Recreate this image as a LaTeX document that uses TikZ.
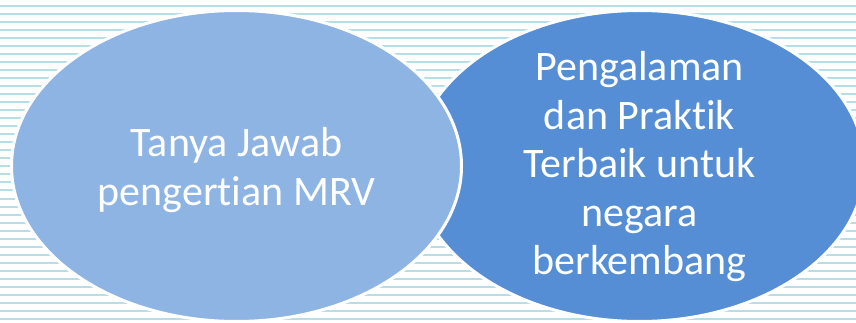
\documentclass[tikz,border=0pt]{standalone}
\usepackage{fontspec}
\setmainfont{Carlito}[Ligatures=NoCommon]
\usetikzlibrary{shapes,positioning}

\definecolor{stripeblue}{HTML}{B7DEE8}
\definecolor{lightfill}{HTML}{8EB4E3}
\definecolor{darkfill}{HTML}{558ED5}

\begin{document}
\begin{tikzpicture}[
    x=1pt,
    y=-1pt,
    stripe/.style={draw=stripeblue,line width=2pt},
    venn node/.style={ellipse,draw=white,line width=3pt,minimum width=450pt,minimum height=311pt,inner sep=0pt},
    label node/.style={align=center,text=white,inner sep=0pt,font=\fontsize{42}{48.5}\selectfont}
]

% Background
\useasboundingbox[fill=white] (0,0) rectangle (856,323);
\foreach \k in {0,...,39}
    \draw[stripe] (0,6.5+8*\k) -- (856,6.5+8*\k);

% Circles
\node[venn node,fill=darkfill] (practice) at (639.5,166) {};
\node[venn node,fill=lightfill] (qa) at (236.5,166) {};

% Texts
\node[label node,yshift=-4pt] (qatext) at (qa.center) {Tanya Jawab\\pengertian MRV};
\node[label node,yshift=-1pt] (practicetext) at (practice.center) {Pengalaman\\dan Praktik\\Terbaik untuk\\negara\\berkembang};

\end{tikzpicture}
\end{document}
